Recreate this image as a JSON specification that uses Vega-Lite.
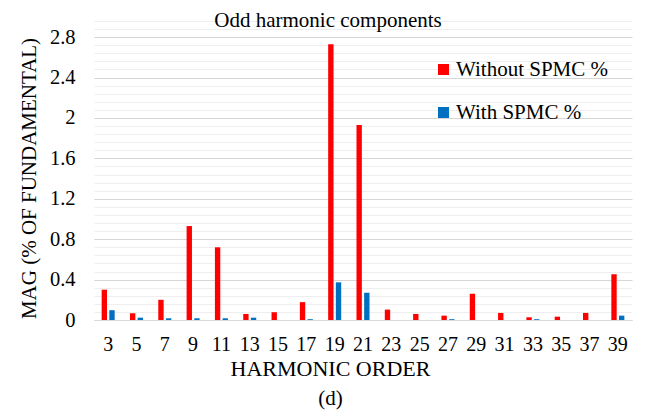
{
  "$schema": "https://vega.github.io/schema/vega-lite/v6.json",
  "width": 538,
  "height": 299,
  "autosize": "none",
  "padding": {"left": 94, "top": 21, "right": 15, "bottom": 94},
  "background": "white",
  "config": {
    "font": "Liberation Serif",
    "view": {"stroke": null},
    "axis": {"labelFont": "Liberation Serif", "titleFont": "Liberation Serif"},
    "legend": {"labelFont": "Liberation Serif", "titleFont": "Liberation Serif"}
  },
  "title": {
    "text": "Odd harmonic components",
    "font": "Liberation Serif",
    "fontSize": 21,
    "fontWeight": "normal",
    "color": "black",
    "anchor": "middle",
    "frame": "group",
    "dx": -35,
    "baseline": "alphabetic",
    "offset": -37
  },
  "data": {
    "values": [
      {"h": 3, "series": "Without SPMC %", "value": 0.30},
      {"h": 3, "series": "With SPMC %", "value": 0.097},
      {"h": 5, "series": "Without SPMC %", "value": 0.067},
      {"h": 5, "series": "With SPMC %", "value": 0.023},
      {"h": 7, "series": "Without SPMC %", "value": 0.20},
      {"h": 7, "series": "With SPMC %", "value": 0.017},
      {"h": 9, "series": "Without SPMC %", "value": 0.93},
      {"h": 9, "series": "With SPMC %", "value": 0.017},
      {"h": 11, "series": "Without SPMC %", "value": 0.72},
      {"h": 11, "series": "With SPMC %", "value": 0.017},
      {"h": 13, "series": "Without SPMC %", "value": 0.06},
      {"h": 13, "series": "With SPMC %", "value": 0.023},
      {"h": 15, "series": "Without SPMC %", "value": 0.077},
      {"h": 15, "series": "With SPMC %", "value": 0.0},
      {"h": 17, "series": "Without SPMC %", "value": 0.177},
      {"h": 17, "series": "With SPMC %", "value": 0.008},
      {"h": 19, "series": "Without SPMC %", "value": 2.73},
      {"h": 19, "series": "With SPMC %", "value": 0.373},
      {"h": 21, "series": "Without SPMC %", "value": 1.93},
      {"h": 21, "series": "With SPMC %", "value": 0.27},
      {"h": 23, "series": "Without SPMC %", "value": 0.103},
      {"h": 23, "series": "With SPMC %", "value": 0.0},
      {"h": 25, "series": "Without SPMC %", "value": 0.06},
      {"h": 25, "series": "With SPMC %", "value": 0.0},
      {"h": 27, "series": "Without SPMC %", "value": 0.043},
      {"h": 27, "series": "With SPMC %", "value": 0.008},
      {"h": 29, "series": "Without SPMC %", "value": 0.26},
      {"h": 29, "series": "With SPMC %", "value": 0.0},
      {"h": 31, "series": "Without SPMC %", "value": 0.07},
      {"h": 31, "series": "With SPMC %", "value": 0.0},
      {"h": 33, "series": "Without SPMC %", "value": 0.027},
      {"h": 33, "series": "With SPMC %", "value": 0.008},
      {"h": 35, "series": "Without SPMC %", "value": 0.033},
      {"h": 35, "series": "With SPMC %", "value": 0.0},
      {"h": 37, "series": "Without SPMC %", "value": 0.07},
      {"h": 37, "series": "With SPMC %", "value": 0.0},
      {"h": 39, "series": "Without SPMC %", "value": 0.453},
      {"h": 39, "series": "With SPMC %", "value": 0.043}
    ]
  },
  "layer": [
    {
      "mark": {"type": "bar"},
      "encoding": {
        "x": {
          "field": "h",
          "type": "ordinal",
          "scale": {"paddingInner": 0.54, "paddingOuter": 0.27},
          "axis": {
            "labelAngle": 0,
            "labelFont": "Liberation Serif",
            "labelFontSize": 20,
            "labelColor": "black",
            "labelPadding": 14,
            "ticks": false,
            "domainColor": "#d9d9d9",
            "domainWidth": 1,
            "grid": false,
            "title": "HARMONIC ORDER",
            "titleFont": "Liberation Serif",
            "titleFontSize": 22,
            "titleFontWeight": "normal",
            "titleColor": "black",
            "titleX": 236,
            "titleY": 55,
            "titleBaseline": "alphabetic",
            "titleAnchor": "middle"
          }
        },
        "xOffset": {
          "field": "series",
          "type": "nominal",
          "sort": ["Without SPMC %", "With SPMC %"],
          "scale": {"paddingInner": 0.3}
        },
        "y": {
          "field": "value",
          "type": "quantitative",
          "scale": {"domain": [0, 2.96], "nice": false, "zero": true},
          "axis": {
            "values": [0, 0.08, 0.16, 0.24, 0.32, 0.4, 0.48, 0.56, 0.64, 0.72, 0.8, 0.88, 0.96, 1.04, 1.12, 1.2, 1.28, 1.36, 1.44, 1.52, 1.6, 1.68, 1.76, 1.84, 1.92, 2.0, 2.08, 2.16, 2.24, 2.32, 2.4, 2.48, 2.56, 2.64, 2.72, 2.8, 2.88, 2.96],
            "tickCount": 100,
            "labelOverlap": false,
            "labelExpr": "round(datum.value * 100) % 40 == 0 ? format(datum.value, '~g') : ''",
            "gridColor": {"condition": {"test": "round(datum.value * 100) % 40 == 0", "value": "#d6d6d6"}, "value": "#eeeeee"},
            "gridWidth": 1,
            "domain": false,
            "ticks": false,
            "labelFont": "Liberation Serif",
            "labelFontSize": 20.5,
            "labelColor": "black",
            "labelPadding": 19,
            "title": "MAG (% OF FUNDAMENTAL)",
            "titleFont": "Liberation Serif",
            "titleFontSize": 21,
            "titleFontWeight": "normal",
            "titleColor": "black",
            "titleX": -59,
            "titleY": 157,
            "titleBaseline": "alphabetic",
            "titleAnchor": "middle"
          }
        },
        "color": {
          "field": "series",
          "type": "nominal",
          "sort": ["Without SPMC %", "With SPMC %"],
          "scale": {"domain": ["Without SPMC %", "With SPMC %"], "range": ["#ff0000", "#0070c0"]},
          "legend": {
            "title": null,
            "orient": "none",
            "legendX": 339,
            "legendY": 38,
            "padding": 0,
            "symbolType": "square",
            "symbolSize": 121,
            "symbolStrokeWidth": 0,
            "labelFont": "Liberation Serif",
            "labelFontSize": 21,
            "labelColor": "black",
            "labelOffset": 2,
            "rowPadding": 21,
            "labelLimit": 300
          }
        }
      }
    },
    {
      "mark": {"type": "bar", "opacity": 0},
      "encoding": {
        "x": {
          "field": "h",
          "type": "ordinal",
          "axis": {
            "orient": "bottom",
            "labels": false,
            "ticks": false,
            "domain": false,
            "grid": false,
            "title": "(d)",
            "titleFont": "Liberation Serif",
            "titleFontSize": 21,
            "titleFontWeight": "normal",
            "titleColor": "black",
            "titleX": 236,
            "titleY": 84,
            "titleBaseline": "alphabetic",
            "titleAnchor": "middle"
          }
        },
        "xOffset": {"field": "series", "type": "nominal", "sort": ["Without SPMC %", "With SPMC %"]},
        "y": {"field": "value", "type": "quantitative"}
      }
    }
  ],
  "resolve": {"axis": {"x": "independent"}}
}
